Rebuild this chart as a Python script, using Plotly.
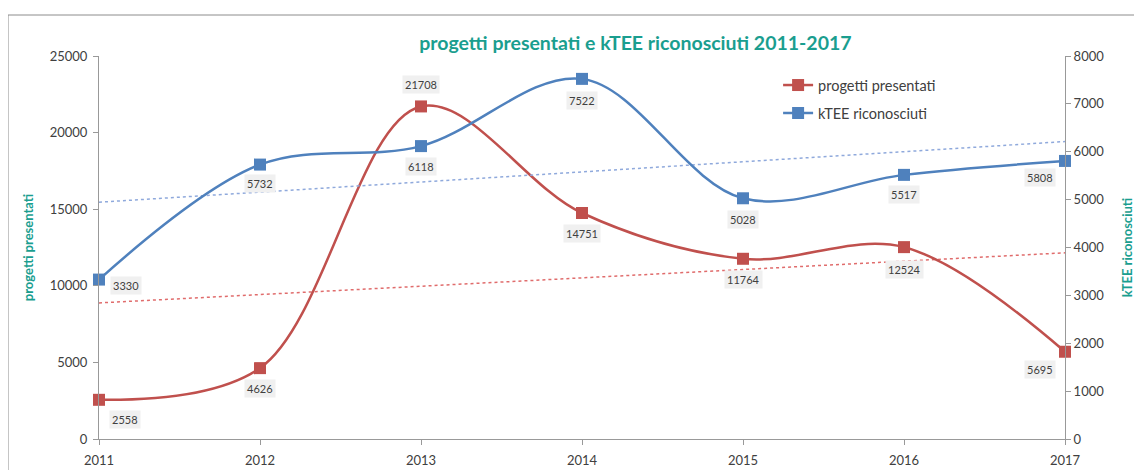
import numpy as np
import plotly.graph_objects as go

years = [2011, 2012, 2013, 2014, 2015, 2016, 2017]
progetti = [2558, 4626, 21708, 14751, 11764, 12524, 5695]
ktee = [3330, 5732, 6118, 7522, 5028, 5517, 5808]

RED = "#c0504d"
BLUE = "#4f81bd"
TEAL = "#1a9e8f"
FONT = "Lato, Carlito, 'Open Sans', sans-serif"

x_idx = np.arange(len(years))
p_fit = np.polyfit(x_idx, progetti, 1)
k_fit = np.polyfit(x_idx, ktee, 1)
p_trend = np.polyval(p_fit, x_idx)
k_trend = np.polyval(k_fit, x_idx)

fig = go.Figure()

fig.add_trace(go.Scatter(x=years, y=p_trend, mode="lines", yaxis="y",
                         line=dict(color="#e06c6c", width=1.5, dash="dot"),
                         showlegend=False, hoverinfo="skip"))
fig.add_trace(go.Scatter(x=years, y=k_trend, mode="lines", yaxis="y2",
                         line=dict(color="#8fa9dc", width=1.5, dash="dot"),
                         showlegend=False, hoverinfo="skip"))

fig.add_trace(go.Scatter(x=years, y=progetti, name="progetti presentati", yaxis="y",
                         mode="lines+markers", cliponaxis=False,
                         line=dict(color=RED, width=2.5, shape="spline", smoothing=1.0),
                         marker=dict(symbol="square", size=12, color=RED),
                         legend="legend"))
fig.add_trace(go.Scatter(x=years, y=ktee, name="kTEE riconosciuti", yaxis="y2",
                         mode="lines+markers", cliponaxis=False,
                         line=dict(color=BLUE, width=2.5, shape="spline", smoothing=1.0),
                         marker=dict(symbol="square", size=12, color=BLUE),
                         legend="legend2"))

# data label offsets (pixels)
p_off = [(26, -20), (0, -20), (0, 22), (0, -20), (0, -21), (0, -22), (-25, -18)]
k_off = [(27, -6), (0, -19), (0, -20), (0, -22), (0, -21), (0, -20), (-25, -17)]

annotations = []
for xv, yv, (dx, dy) in zip(years, progetti, p_off):
    annotations.append(dict(x=xv, y=yv, xref="x", yref="y", text=str(yv),
                            showarrow=False, xshift=dx, yshift=dy,
                            bgcolor="#f0f0f0", borderpad=2,
                            font=dict(family=FONT, size=11, color="#404040")))
for xv, yv, (dx, dy) in zip(years, ktee, k_off):
    annotations.append(dict(x=xv, y=yv, xref="x", yref="y2", text=str(yv),
                            showarrow=False, xshift=dx, yshift=dy,
                            bgcolor="#f0f0f0", borderpad=2,
                            font=dict(family=FONT, size=11, color="#404040")))

axis_common = dict(showgrid=False, zeroline=False, showline=True, linecolor="#999999",
                   linewidth=1, ticks="outside", ticklen=5, tickcolor="#999999",
                   tickfont=dict(family=FONT, size=13, color="#404040"))

fig.update_layout(
    width=1142, height=470,
    margin=dict(l=91, r=85, t=48, b=39),
    paper_bgcolor="white", plot_bgcolor="white",
    font=dict(family=FONT),
    title=dict(text="<b>progetti presentati e kTEE riconosciuti 2011-2017</b>",
               x=0.5494, xanchor="center", y=0.9255, yanchor="middle",
               font=dict(family=FONT, size=19.5, color=TEAL)),
    xaxis=dict(range=[2011, 2017], tickmode="array", tickvals=years,
               ticktext=[str(y) for y in years], ticklabelstandoff=4,
               automargin=False, **axis_common),
    yaxis=dict(range=[0, 25000], dtick=5000, tickformat="d", ticklabelstandoff=3,
               title=dict(text="<b>progetti presentati</b>", standoff=13,
                          font=dict(family=FONT, size=13, color=TEAL)),
               **axis_common),
    yaxis2=dict(range=[0, 8000], dtick=1000, tickformat="d", overlaying="y", side="right",
                title=dict(text="<b>kTEE riconosciuti</b>", standoff=19,
                           font=dict(family=FONT, size=13, color=TEAL)),
                **axis_common),
    legend=dict(x=0.703, y=0.924, xanchor="left", yanchor="middle",
                bgcolor="rgba(0,0,0,0)", font=dict(family=FONT, size=14.5, color="#404040")),
    legend2=dict(x=0.703, y=0.851, xanchor="left", yanchor="middle",
                 bgcolor="rgba(0,0,0,0)", font=dict(family=FONT, size=14.5, color="#404040")),
    annotations=annotations,
    shapes=[dict(type="rect", xref="paper", yref="paper",
                 x0=(0 - 91) / 966, x1=1.2, y0=-0.3, y1=1 + (48 - 7) / 383,
                 line=dict(color="#8c8c8c", width=1), layer="below")],
)

fig.write_html("out.html")
